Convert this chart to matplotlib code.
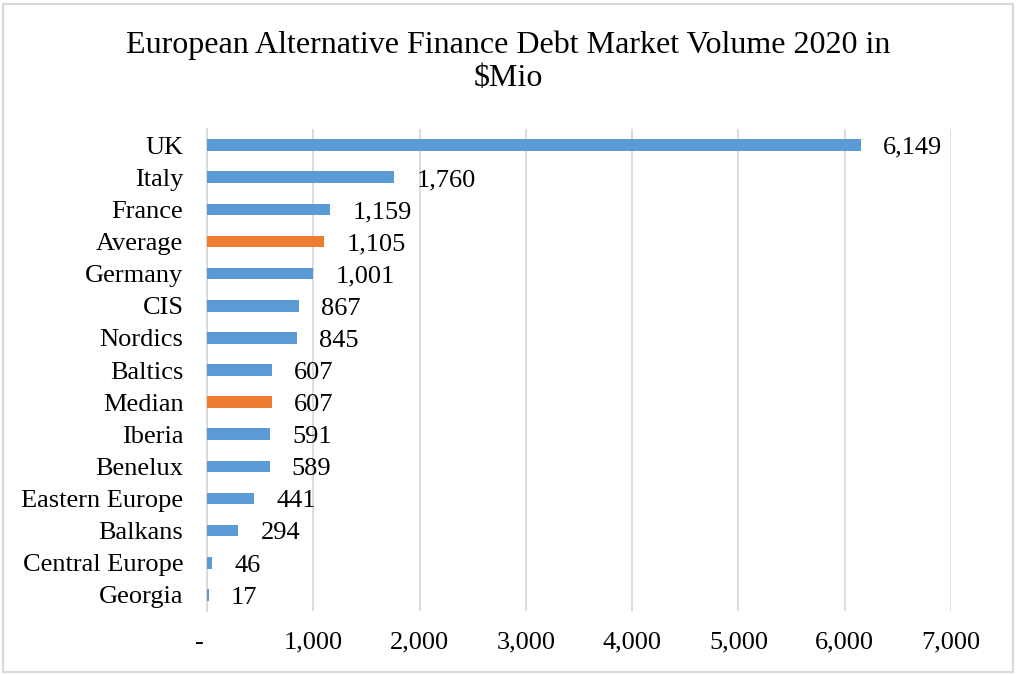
import matplotlib
matplotlib.use("Agg")
import matplotlib.pyplot as plt
from matplotlib.patches import Rectangle
import matplotlib.transforms as mtransforms

regions = ["UK", "Italy", "France", "Average", "Germany", "CIS", "Nordics",
           "Baltics", "Median", "Iberia", "Benelux", "Eastern Europe",
           "Balkans", "Central Europe", "Georgia"]
volumes = [6149, 1760, 1159, 1105, 1001, 867, 845, 607, 607, 591, 589,
           441, 294, 46, 17]
summary_rows = ["Average", "Median"]
x_ticks = [0, 1000, 2000, 3000, 4000, 5000, 6000, 7000]
x_tick_labels = ["-", "1,000", "2,000", "3,000", "4,000", "5,000", "6,000", "7,000"]

BLUE = "#5B9BD5"
ORANGE = "#ED7D31"
GRID = "#D9D9D9"
FONT = "Liberation Serif"

plt.rcParams["font.family"] = [FONT, "DejaVu Serif"]

W, H = 1017, 675
fig = plt.figure(figsize=(W / 100, H / 100), dpi=100)
ax = fig.add_axes([207 / W, 1 - 611 / H, (951 - 207) / W, (611 - 129) / H])

positions = list(range(len(regions)))
colors = [ORANGE if r in summary_rows else BLUE for r in regions]
ax.barh(positions, volumes, height=0.36, color=colors, zorder=3)

ax.set_xlim(0, 7000)
ax.set_ylim(len(regions) - 0.5, -0.5)
ax.set_yticks(positions)
ax.set_yticklabels(regions, fontsize=19)
ax.set_xticks(x_ticks)
ax.set_xticklabels(x_tick_labels, fontsize=19)
ax.tick_params(axis="y", length=0, pad=17)
ax.tick_params(axis="x", length=0, pad=15)

# shift the zero label slightly left, like an accounting number format
zero_lbl = ax.get_xticklabels()[0]
zero_lbl.set_transform(zero_lbl.get_transform() +
                       mtransforms.ScaledTranslation(-8 / 100, 0, fig.dpi_scale_trans))

ax.grid(axis="x", color=GRID, linewidth=1.3, zorder=0)
ax.grid(axis="y", visible=False)
for side in ["top", "right", "bottom"]:
    ax.spines[side].set_visible(False)
ax.spines["left"].set_color(GRID)
ax.spines["left"].set_linewidth(1.3)

for pos, val in zip(positions, volumes):
    ax.annotate(f"{val:,}", xy=(val, pos), xytext=(16, -2),
                textcoords="offset points", ha="left", va="center",
                fontsize=19, zorder=4)

fig.text(0.5, 1 - 62 / H,
         "European Alternative Finance Debt Market Volume 2020 in\n$Mio",
         ha="center", va="center", fontsize=23, linespacing=1.17,
         parse_math=False)

fig.patches.append(Rectangle((3 / W, 3 / H), (W - 7) / W, (H - 7) / H,
                             transform=fig.transFigure, fill=False,
                             edgecolor=GRID, linewidth=1.5))

fig.savefig("out.png", dpi=100)
